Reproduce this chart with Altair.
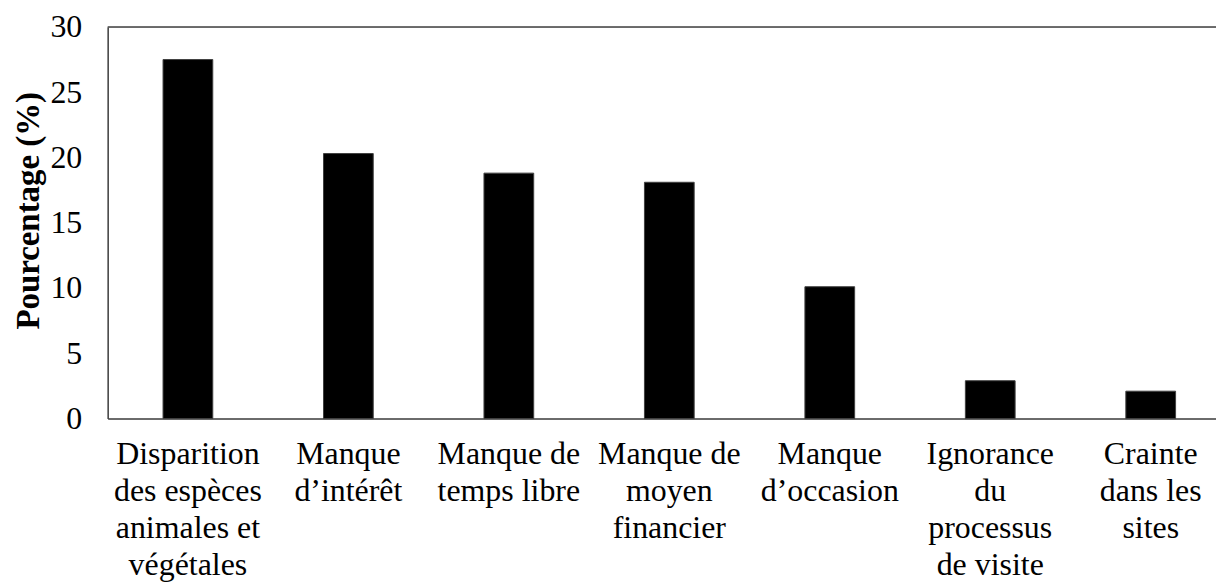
import altair as alt
import pandas as pd

categories = [
    "Disparition|des espèces|animales et|végétales",
    "Manque|d’intérêt",
    "Manque de|temps libre",
    "Manque de|moyen|financier",
    "Manque|d’occasion",
    "Ignorance|du|processus|de visite",
    "Crainte|dans les|sites",
]
values = [27.5, 20.3, 18.8, 18.1, 10.1, 2.9, 2.1]
y_ticks = [0, 5, 10, 15, 20, 25, 30]

df = pd.DataFrame({"cat": categories, "pct": values})

FONT = "Liberation Serif, Times New Roman, serif"
STEP_RANGE = 1127

x_enc = alt.X(
    "cat:N",
    sort=None,
    title=None,
    scale=alt.Scale(range=[0, STEP_RANGE], paddingInner=0.69, paddingOuter=0.345),
    axis=alt.Axis(
        labelExpr="split(datum.label, '|')",
        labelAngle=0,
        labelFont=FONT,
        labelFontSize=32,
        labelLineHeight=37,
        labelColor="black",
        labelPadding=20,
        ticks=False,
        tickSize=0,
        domainColor="#404040",
        domainWidth=1.5,
        labelLimit=400,
    ),
)

y_enc = alt.Y(
    "pct:Q",
    title="Pourcentage (%)",
    scale=alt.Scale(domain=[0, 30], nice=False),
    axis=alt.Axis(
        values=y_ticks,
        grid=False,
        ticks=False,
        tickSize=0,
        labelFont=FONT,
        labelFontSize=32,
        labelColor="black",
        labelPadding=26,
        domainColor="#404040",
        domainWidth=1.5,
        titleFont=FONT,
        titleFontSize=33,
        titleFontWeight="bold",
        titleColor="black",
        titleX=-79,
        titleY=184,
        titleAlign="center",
        titleBaseline="middle",
        titleAngle=-90,
    ),
)

bars = alt.Chart(df).mark_bar(color="black", stroke="#404040", strokeWidth=1).encode(
    x=x_enc, y=y_enc
)

top = alt.Chart(pd.DataFrame({"v": [30]})).mark_rule(color="#404040", strokeWidth=1.5).encode(
    y=alt.Y("v:Q"),
    x=alt.value(0),
    x2=alt.value(STEP_RANGE + 20),
)

chart = (
    alt.layer(bars, top)
    .properties(
        width=1112,
        height=393,
        autosize=alt.AutoSizeParams(type="none"),
        padding={"left": 100, "top": 18, "right": 0, "bottom": 165},
    )
    .configure_view(stroke=None)
    .configure_axis(labelFont=FONT, titleFont=FONT)
    .configure(background="white", font=FONT)
)

chart.save("out.html", embed_options={"renderer": "svg", "actions": False})
